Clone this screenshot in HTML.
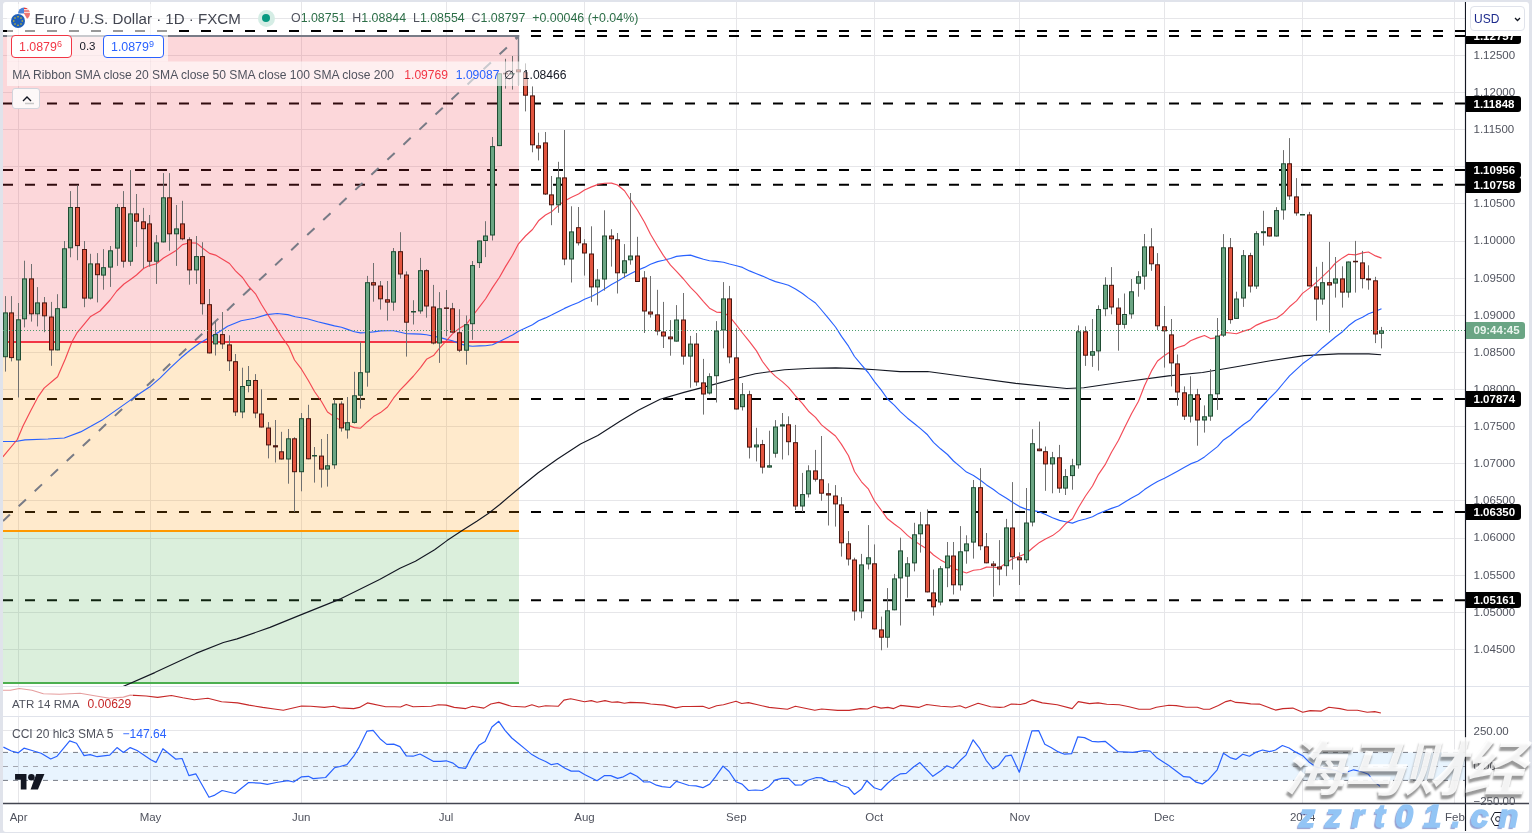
<!DOCTYPE html>
<html><head><meta charset="utf-8">
<style>
html,body{margin:0;padding:0;}
body{width:1532px;height:833px;overflow:hidden;background:#e0e3eb;position:relative;font-family:"Liberation Sans",Arial,sans-serif;}
#panel{position:absolute;left:3px;top:2px;width:1526px;height:829.5px;background:#fff;border-radius:3px;}
.t{position:absolute;white-space:pre;line-height:1;}
.pl{position:absolute;left:1473.5px;font-size:11.5px;color:#50535e;line-height:1;}
.bx{position:absolute;left:1465.5px;width:55.5px;height:16px;background:#000;color:#fff;font-weight:bold;font-size:11.5px;line-height:16px;border-radius:0 3px 3px 0;}
.bx span{position:absolute;left:8px;}
.tl{position:absolute;top:811.8px;font-size:11.5px;color:#50535e;line-height:1;transform:translateX(-50%);}
</style></head><body>
<div id="panel"></div>
<svg width="1532" height="833" viewBox="0 0 1532 833" style="position:absolute;left:0;top:0">
<defs><clipPath id="cm"><rect x="3" y="2" width="1462.5" height="684"/></clipPath><clipPath id="ca"><rect x="3" y="687" width="1462.5" height="29"/></clipPath><clipPath id="cc"><rect x="3" y="717" width="1462.5" height="86"/></clipPath></defs>
<g clip-path="url(#cm)" stroke="#e6e6e9" stroke-width="1" shape-rendering="crispEdges"><line x1="3" x2="1465.5" y1="649.4" y2="649.4"/><line x1="3" x2="1465.5" y1="612.3" y2="612.3"/><line x1="3" x2="1465.5" y1="575.2" y2="575.2"/><line x1="3" x2="1465.5" y1="538.0" y2="538.0"/><line x1="3" x2="1465.5" y1="500.9" y2="500.9"/><line x1="3" x2="1465.5" y1="463.8" y2="463.8"/><line x1="3" x2="1465.5" y1="426.7" y2="426.7"/><line x1="3" x2="1465.5" y1="389.5" y2="389.5"/><line x1="3" x2="1465.5" y1="352.4" y2="352.4"/><line x1="3" x2="1465.5" y1="315.3" y2="315.3"/><line x1="3" x2="1465.5" y1="278.2" y2="278.2"/><line x1="3" x2="1465.5" y1="241.0" y2="241.0"/><line x1="3" x2="1465.5" y1="203.9" y2="203.9"/><line x1="3" x2="1465.5" y1="166.8" y2="166.8"/><line x1="3" x2="1465.5" y1="129.7" y2="129.7"/><line x1="3" x2="1465.5" y1="92.5" y2="92.5"/><line x1="3" x2="1465.5" y1="55.4" y2="55.4"/><line x1="3" x2="1465.5" y1="18.3" y2="18.3"/></g>
<g stroke="#e6e6e9" stroke-width="1" shape-rendering="crispEdges"><line x1="18.6" x2="18.6" y1="2" y2="803"/><line x1="150.5" x2="150.5" y1="2" y2="803"/><line x1="301.2" x2="301.2" y1="2" y2="803"/><line x1="446.0" x2="446.0" y1="2" y2="803"/><line x1="584.5" x2="584.5" y1="2" y2="803"/><line x1="736.3" x2="736.3" y1="2" y2="803"/><line x1="874.3" x2="874.3" y1="2" y2="803"/><line x1="1019.8" x2="1019.8" y1="2" y2="803"/><line x1="1164.2" x2="1164.2" y1="2" y2="803"/><line x1="1302.7" x2="1302.7" y1="2" y2="803"/><line x1="1454.9" x2="1454.9" y1="2" y2="803"/></g>
<g clip-path="url(#cm)" stroke="#000" stroke-width="2" stroke-dasharray="10 12"><line x1="3" x2="1465.5" y1="31" y2="31"/><line x1="3" x2="1465.5" y1="36" y2="36"/><line x1="3" x2="1465.5" y1="103.6" y2="103.6"/><line x1="3" x2="1465.5" y1="170.0" y2="170.0"/><line x1="3" x2="1465.5" y1="184.7" y2="184.7"/><line x1="3" x2="1465.5" y1="398.9" y2="398.9"/><line x1="3" x2="1465.5" y1="512.1" y2="512.1"/><line x1="3" x2="1465.5" y1="600.3" y2="600.3"/></g>
<g clip-path="url(#cm)">
<rect x="3" y="37" width="516" height="304" fill="#f23645" fill-opacity="0.2"/>
<rect x="3" y="342" width="516" height="189" fill="#ff9800" fill-opacity="0.2"/>
<rect x="3" y="531" width="516" height="152" fill="#4caf50" fill-opacity="0.2"/>
<line x1="3" x2="519" y1="342" y2="342" stroke="#f23645" stroke-width="2"/>
<line x1="3" x2="519" y1="531" y2="531" stroke="#ff9800" stroke-width="2"/>
<line x1="3" x2="519" y1="683" y2="683" stroke="#4caf50" stroke-width="2"/>
<line x1="3" x2="519.2" y1="36" y2="36" stroke="#787b86" stroke-width="2"/>
<line x1="518.5" x2="518.5" y1="35" y2="85" stroke="#787b86" stroke-width="1.4"/>
<path d="M514.5,37 L518,37 L517,39.5 Z" fill="#787b86"/>
<line x1="3" y1="521" x2="518" y2="37" stroke="#787b86" stroke-width="2" stroke-dasharray="10 12" stroke-dashoffset="0.5"/>
</g>
<g clip-path="url(#cm)" fill="none" stroke-linejoin="round">
<polyline points="118.0,688.8 124.7,685.8 154.8,672.6 195.9,653.4 223.4,642.5 237.1,638.9 270.0,627.4 300.1,615.1 327.5,604.1 341.2,598.6 379.6,579.5 400.0,568.3 415.4,561.2 434.6,549.7 447.0,540.6 461.4,531.0 476.8,521.2 488.3,513.5 499.8,504.5 519.0,488.2 538.2,472.8 557.5,459.0 580.5,444.0 597.8,435.4 620.0,421.2 638.3,410.3 660.2,399.3 684.0,392.4 711.4,385.1 733.3,379.2 755.3,373.7 784.5,369.7 811.9,368.3 835.7,367.9 857.6,368.6 875.9,369.7 900.0,371.6 927.5,371.5 968.3,377.0 1015.8,383.4 1066.7,388.5 1083.7,387.8 1124.4,381.7 1168.5,375.9 1202.5,372.5 1236.4,366.8 1270.4,360.7 1304.3,355.6 1338.3,353.9 1368.8,353.9 1381.1,354.8" stroke="#131722" stroke-width="1.15"/>
<polyline points="2.9,441.5 15.4,441.5 25.0,439.9 48.0,439.0 64.3,438.0 80.6,431.9 103.0,419.4 118.0,408.9 136.0,396.1 149.5,387.1 160.0,378.1 170.6,367.6 181.1,357.8 190.1,350.3 199.1,343.5 208.1,338.3 218.6,332.3 227.6,326.3 241.1,320.7 254.7,318.3 266.7,314.6 277.2,313.5 287.7,314.6 295.2,316.8 307.2,318.8 317.7,321.8 327.5,324.1 334.5,325.9 341.5,327.3 347.5,329.4 354.5,331.7 360.5,332.9 367.5,332.5 373.5,331.9 380.5,330.9 387.5,330.7 393.5,330.8 400.5,332.2 406.5,333.7 413.5,333.9 420.5,334.1 426.5,334.7 433.5,336.2 439.5,337.4 446.5,339.4 452.5,340.8 459.5,343.6 466.5,345.6 472.5,346.3 479.5,345.9 485.5,345.8 492.5,344.8 499.5,341.5 505.5,338.4 512.5,335.1 518.5,331.2 525.5,328.0 532.5,324.8 538.5,320.7 545.5,317.9 551.5,315.1 558.5,311.4 564.5,308.4 571.5,305.3 578.5,302.5 584.5,299.3 591.5,296.5 597.5,293.2 604.5,289.0 611.5,284.6 617.5,281.3 624.5,277.0 630.5,273.8 637.5,270.2 644.5,267.4 650.5,264.3 657.5,261.6 663.5,260.3 670.5,258.5 676.5,256.4 683.5,255.6 690.5,255.1 696.5,257.1 703.5,259.3 709.5,260.8 716.5,261.4 723.5,262.3 729.5,264.0 736.5,265.7 742.5,267.4 749.5,270.9 756.5,273.7 762.5,276.1 769.5,279.3 775.5,281.6 782.5,283.5 788.5,285.3 795.5,288.9 802.5,293.5 808.5,298.1 815.5,303.0 821.5,310.0 828.5,318.4 835.5,327.0 841.5,336.4 848.5,346.2 854.5,356.5 861.5,364.9 868.5,373.0 874.5,381.7 881.5,390.4 887.5,399.0 894.5,405.4 900.5,411.8 907.5,418.2 914.5,423.8 920.5,428.6 927.5,434.8 933.5,442.3 940.5,448.8 947.5,454.5 953.5,461.0 960.5,466.9 966.5,472.1 973.5,475.6 980.5,480.3 986.5,484.9 993.5,489.5 999.5,494.1 1006.5,498.3 1012.5,502.3 1019.5,506.6 1026.5,509.4 1032.5,510.4 1039.5,511.9 1045.5,514.6 1052.5,517.7 1059.5,520.4 1065.5,521.7 1072.5,523.1 1078.5,520.8 1085.5,519.0 1092.5,516.7 1098.5,513.6 1105.5,510.7 1111.5,508.4 1118.5,506.0 1124.5,502.2 1131.5,498.1 1138.5,494.3 1144.5,489.6 1151.5,485.0 1157.5,481.6 1164.5,478.2 1171.5,474.6 1177.5,471.2 1184.5,467.3 1190.5,463.9 1197.5,461.2 1204.5,456.9 1210.5,452.1 1217.5,446.6 1223.5,439.9 1230.5,435.3 1236.5,430.0 1243.5,424.5 1250.5,419.7 1256.5,412.5 1263.5,405.0 1269.5,398.4 1276.5,391.4 1283.5,383.0 1289.5,375.9 1296.5,369.3 1302.5,363.8 1309.5,358.6 1316.5,353.4 1322.5,347.7 1329.5,342.0 1335.5,337.0 1342.5,331.7 1348.5,325.8 1355.5,320.5 1362.5,317.3 1368.5,313.8 1375.5,311.2 1381.5,308.7" stroke="#2962ff" stroke-width="1.15"/>
<polyline points="2.9,456.8 17.3,439.5 23.0,426.1 30.7,410.7 38.4,396.3 44.1,388.1 53.7,380.0 57.6,376.8 65.3,359.0 72.0,341.8 76.8,333.2 90.2,316.8 100.0,311.0 110.1,300.0 116.8,291.0 124.0,284.0 130.5,279.5 136.5,275.0 143.5,268.5 149.5,265.6 156.5,263.8 163.5,258.0 169.5,254.6 176.5,250.2 182.5,244.6 189.5,242.8 196.5,243.1 202.5,248.0 209.5,253.4 215.5,255.1 222.5,259.2 229.5,263.5 235.5,270.8 242.5,277.5 248.5,286.2 255.5,293.8 261.5,304.5 268.5,315.7 275.5,326.6 281.5,336.5 288.5,346.3 294.5,360.0 301.5,369.2 308.5,380.7 314.5,391.5 321.5,401.5 327.5,412.0 334.5,416.9 341.5,420.7 347.5,425.1 354.5,427.6 360.5,428.2 367.5,421.7 373.5,416.6 380.5,412.6 387.5,407.0 393.5,398.2 400.5,389.7 406.5,383.5 413.5,376.0 420.5,367.6 426.5,359.3 433.5,355.6 439.5,348.1 446.5,340.7 452.5,333.9 459.5,328.2 466.5,324.2 472.5,316.0 479.5,306.9 485.5,299.0 492.5,287.6 499.5,277.2 505.5,266.6 512.5,255.3 518.5,243.8 525.5,236.0 532.5,229.5 538.5,220.8 545.5,215.0 551.5,211.8 558.5,205.3 564.5,201.1 571.5,197.3 578.5,194.0 584.5,190.0 591.5,186.9 597.5,184.6 604.5,183.2 611.5,183.1 617.5,185.0 624.5,190.7 630.5,199.8 637.5,210.2 644.5,222.2 650.5,234.3 657.5,246.0 663.5,255.6 670.5,265.2 676.5,271.4 683.5,279.0 690.5,287.3 696.5,293.4 703.5,301.6 709.5,308.2 716.5,312.1 723.5,312.6 729.5,316.5 736.5,325.2 742.5,333.0 749.5,341.7 756.5,350.9 762.5,361.5 769.5,370.7 775.5,376.4 782.5,381.9 788.5,387.4 795.5,395.9 802.5,403.7 808.5,411.2 815.5,417.4 821.5,424.9 828.5,430.5 835.5,436.0 841.5,444.4 848.5,455.8 854.5,471.5 861.5,481.8 868.5,489.2 874.5,501.0 881.5,510.5 887.5,518.8 894.5,524.3 900.5,528.6 907.5,535.4 914.5,540.9 920.5,545.0 927.5,549.3 933.5,555.0 940.5,559.9 947.5,563.7 953.5,568.2 960.5,571.0 966.5,573.0 973.5,570.2 980.5,569.5 986.5,567.1 993.5,567.2 999.5,567.8 1006.5,562.7 1012.5,558.7 1019.5,556.2 1026.5,553.4 1032.5,548.0 1039.5,542.4 1045.5,538.9 1052.5,535.6 1059.5,530.4 1065.5,523.8 1072.5,518.7 1078.5,507.5 1085.5,496.0 1092.5,486.0 1098.5,474.3 1105.5,464.1 1111.5,452.2 1118.5,440.3 1124.5,427.7 1131.5,413.8 1138.5,401.2 1144.5,385.7 1151.5,370.9 1157.5,361.0 1164.5,355.5 1171.5,351.1 1177.5,347.5 1184.5,345.4 1190.5,340.7 1197.5,337.9 1204.5,335.5 1210.5,338.6 1217.5,337.6 1223.5,332.4 1230.5,333.0 1236.5,333.7 1243.5,331.1 1250.5,329.1 1256.5,325.1 1263.5,322.1 1269.5,320.1 1276.5,318.3 1283.5,313.2 1289.5,306.8 1296.5,300.9 1302.5,293.4 1309.5,288.1 1316.5,282.2 1322.5,276.6 1329.5,269.9 1335.5,263.0 1342.5,257.9 1348.5,254.2 1355.5,254.9 1362.5,252.9 1368.5,252.0 1375.5,255.9 1381.5,258.1" stroke="#f23645" stroke-opacity="0.9" stroke-width="1.15"/>
</g>
<g clip-path="url(#cm)"><path d="M5.5,296.1V371.6M11.5,296.1V361.4M18.5,303.0V397.5M24.5,260.7V327.4M31.5,264.0V321.6M37.5,287.1V326.4M44.5,297.0V332.2M51.5,301.9V365.8M57.5,294.2V350.4M64.5,241.0V308.2M70.5,191.1V257.3M77.5,185.4V260.2M84.5,241.0V307.2M90.5,253.8V299.5M97.5,253.1V302.4M103.5,249.1V289.7M110.5,246.0V286.9M117.5,204.0V265.9M123.5,191.1V267.6M130.5,170.1V265.9M136.5,194.0V246.9M143.5,207.9V268.4M149.5,215.0V266.7M156.5,235.1V283.9M163.5,173.1V242.4M169.5,173.1V250.8M176.5,205.0V265.9M182.5,200.8V240.3M189.5,237.3V284.7M196.5,236.0V283.9M202.5,242.2V314.6M209.5,289.0V353.4M215.5,321.8V355.5M222.5,312.0V348.9M229.5,335.3V371.0M235.5,354.0V416.0M242.5,367.7V418.2M248.5,366.0V392.3M255.5,374.1V418.2M261.5,389.3V427.5M268.5,422.1V458.4M275.5,420.0V462.5M281.5,431.8V459.5M288.5,429.0V483.7M294.5,437.2V511.8M301.5,413.0V491.3M308.5,404.8V459.3M314.5,447.0V482.6M321.5,439.0V487.6M327.5,434.0V486.6M334.5,399.4V468.8M341.5,401.4V431.6M347.5,397.0V438.6M354.5,371.8V423.5M360.5,342.2V408.6M367.5,275.9V386.7M373.5,263.0V301.7M380.5,281.0V309.6M387.5,281.0V320.6M393.5,248.0V310.7M400.5,232.2V278.6M406.5,271.4V356.6M413.5,300.2V324.5M420.5,257.9V313.7M426.5,269.3V317.7M433.5,284.9V344.4M439.5,292.1V362.9M446.5,290.0V336.2M452.5,302.9V332.6M459.5,309.2V352.1M466.5,315.5V364.7M472.5,261.0V339.8M479.5,240.5V268.0M485.5,221.2V257.1M492.5,137.0V240.5M499.5,73.3V146.1M505.5,58.8V88.6M512.5,56.0V89.6M518.5,56.0V86.0M525.5,63.4V111.4M532.5,86.4V152.3M538.5,132.7V160.4M545.5,132.0V195.0M551.5,176.0V225.2M558.5,161.8V212.8M564.5,130.0V265.2M571.5,206.3V282.5M578.5,207.0V245.5M584.5,239.2V275.6M591.5,226.3V301.8M597.5,269.1V305.4M604.5,210.3V290.6M611.5,229.2V266.6M617.5,233.0V293.5M624.5,244.1V278.1M630.5,193.0V264.7M637.5,236.8V282.0M644.5,271.1V333.0M650.5,276.0V317.6M657.5,289.8V335.3M663.5,301.9V348.0M670.5,320.1V355.7M676.5,305.1V341.6M683.5,293.0V364.7M690.5,335.9V387.7M696.5,333.0V385.8M703.5,358.9V414.6M709.5,373.3V394.5M716.5,321.1V402.5M723.5,282.1V348.4M729.5,285.9V363.3M736.5,328.2V409.5M742.5,383.0V410.5M749.5,390.7V458.5M756.5,427.8V461.4M762.5,439.9V473.5M769.5,430.7V467.6M775.5,420.1V457.6M782.5,413.0V459.5M788.5,416.3V455.3M795.5,424.9V510.0M802.5,472.9V512.0M808.5,465.3V497.5M815.5,449.9V481.6M821.5,436.0V500.8M828.5,483.3V525.5M835.5,485.1V526.6M841.5,497.1V556.6M848.5,531.1V565.5M854.5,557.7V620.6M861.5,553.9V618.3M868.5,525.1V569.5M874.5,544.4V629.4M881.5,616.6V650.3M887.5,588.1V647.7M894.5,573.9V610.3M900.5,537.7V625.5M907.5,557.1V597.7M914.5,522.8V571.4M920.5,511.9V552.6M927.5,509.4V592.4M933.5,569.5V615.6M940.5,566.0V605.4M947.5,542.0V587.2M953.5,542.0V594.5M960.5,526.1V590.6M966.5,535.3V563.7M973.5,480.0V558.6M980.5,468.1V550.2M986.5,533.0V563.3M993.5,561.1V596.8M999.5,540.1V585.3M1006.5,518.9V576.1M1012.5,482.1V569.6M1019.5,552.3V585.0M1026.5,488.0V563.1M1032.5,429.2V526.4M1039.5,421.6V451.2M1045.5,446.5V490.8M1052.5,451.9V493.3M1059.5,444.9V492.9M1065.5,469.1V495.0M1072.5,458.8V489.7M1078.5,325.4V468.7M1085.5,326.3V365.9M1092.5,319.0V366.9M1098.5,305.3V370.6M1105.5,277.3V316.2M1111.5,267.1V314.4M1118.5,298.2V350.7M1124.5,293.5V328.5M1131.5,279.0V318.7M1138.5,271.2V296.7M1144.5,234.0V289.6M1151.5,228.2V270.8M1157.5,253.1V330.2M1164.5,306.0V367.6M1171.5,319.0V386.4M1177.5,354.5V405.7M1184.5,386.4V420.0M1190.5,376.3V422.5M1197.5,388.9V445.7M1204.5,405.4V432.6M1210.5,369.1V420.8M1217.5,318.0V409.9M1223.5,234.1V336.9M1230.5,238.0V323.7M1236.5,291.7V318.9M1243.5,250.0V306.9M1250.5,252.8V292.5M1256.5,231.2V288.9M1263.5,210.8V245.6M1269.5,227.2V236.5M1276.5,207.2V236.5M1283.5,150.1V219.7M1289.5,138.1V199.9M1296.5,178.1V215.7M1302.5,214.0V214.8M1309.5,211.9V286.4M1316.5,266.8V320.6M1322.5,261.9V304.7M1329.5,241.9V332.5M1335.5,257.0V297.6M1342.5,266.3V307.6M1348.5,261.5V297.6M1355.5,240.9V292.6M1362.5,250.9V288.4M1368.5,265.3V289.7M1375.5,276.8V343.1M1381.5,326.9V348.4" stroke="#707070" stroke-width="1" fill="none"/><rect x="3.5" y="312.9" width="4" height="43.8" fill="#6ba583" stroke="#1f4d33" stroke-width="1"/><rect x="9.5" y="312.9" width="4" height="44.7" fill="#e2553f" stroke="#4a1610" stroke-width="1"/><rect x="16.5" y="319.8" width="4" height="40.1" fill="#6ba583" stroke="#1f4d33" stroke-width="1"/><rect x="22.5" y="278.9" width="4" height="39.9" fill="#6ba583" stroke="#1f4d33" stroke-width="1"/><rect x="29.5" y="278.9" width="4" height="34.9" fill="#e2553f" stroke="#4a1610" stroke-width="1"/><rect x="35.5" y="302.9" width="4" height="10.9" fill="#6ba583" stroke="#1f4d33" stroke-width="1"/><rect x="42.5" y="302.9" width="4" height="12.9" fill="#e2553f" stroke="#4a1610" stroke-width="1"/><rect x="49.5" y="317.0" width="4" height="32.9" fill="#e2553f" stroke="#4a1610" stroke-width="1"/><rect x="55.5" y="308.7" width="4" height="41.2" fill="#6ba583" stroke="#1f4d33" stroke-width="1"/><rect x="62.5" y="248.8" width="4" height="58.9" fill="#6ba583" stroke="#1f4d33" stroke-width="1"/><rect x="68.5" y="207.5" width="4" height="40.3" fill="#6ba583" stroke="#1f4d33" stroke-width="1"/><rect x="75.5" y="207.5" width="4" height="38.1" fill="#e2553f" stroke="#4a1610" stroke-width="1"/><rect x="82.5" y="249.5" width="4" height="48.6" fill="#e2553f" stroke="#4a1610" stroke-width="1"/><rect x="88.5" y="263.9" width="4" height="34.2" fill="#6ba583" stroke="#1f4d33" stroke-width="1"/><rect x="95.5" y="263.9" width="4" height="10.8" fill="#e2553f" stroke="#4a1610" stroke-width="1"/><rect x="101.5" y="267.7" width="4" height="7.4" fill="#6ba583" stroke="#1f4d33" stroke-width="1"/><rect x="108.5" y="250.8" width="4" height="16.3" fill="#6ba583" stroke="#1f4d33" stroke-width="1"/><rect x="115.5" y="207.6" width="4" height="40.5" fill="#6ba583" stroke="#1f4d33" stroke-width="1"/><rect x="121.5" y="207.6" width="4" height="53.6" fill="#e2553f" stroke="#4a1610" stroke-width="1"/><rect x="128.5" y="213.9" width="4" height="47.3" fill="#6ba583" stroke="#1f4d33" stroke-width="1"/><rect x="134.5" y="213.9" width="4" height="7.3" fill="#e2553f" stroke="#4a1610" stroke-width="1"/><rect x="141.5" y="221.8" width="4" height="6.9" fill="#e2553f" stroke="#4a1610" stroke-width="1"/><rect x="147.5" y="223.9" width="4" height="37.3" fill="#e2553f" stroke="#4a1610" stroke-width="1"/><rect x="154.5" y="242.9" width="4" height="18.3" fill="#6ba583" stroke="#1f4d33" stroke-width="1"/><rect x="161.5" y="197.8" width="4" height="44.1" fill="#6ba583" stroke="#1f4d33" stroke-width="1"/><rect x="167.5" y="197.8" width="4" height="36.0" fill="#e2553f" stroke="#4a1610" stroke-width="1"/><rect x="174.5" y="228.9" width="4" height="4.9" fill="#6ba583" stroke="#1f4d33" stroke-width="1"/><rect x="180.5" y="223.9" width="4" height="14.9" fill="#e2553f" stroke="#4a1610" stroke-width="1"/><rect x="187.5" y="239.8" width="4" height="30.1" fill="#e2553f" stroke="#4a1610" stroke-width="1"/><rect x="194.5" y="256.6" width="4" height="13.3" fill="#6ba583" stroke="#1f4d33" stroke-width="1"/><rect x="200.5" y="256.6" width="4" height="47.1" fill="#e2553f" stroke="#4a1610" stroke-width="1"/><rect x="207.5" y="304.7" width="4" height="48.2" fill="#e2553f" stroke="#4a1610" stroke-width="1"/><rect x="213.5" y="334.6" width="4" height="9.3" fill="#6ba583" stroke="#1f4d33" stroke-width="1"/><rect x="220.5" y="334.6" width="4" height="9.3" fill="#e2553f" stroke="#4a1610" stroke-width="1"/><rect x="227.5" y="344.9" width="4" height="15.9" fill="#e2553f" stroke="#4a1610" stroke-width="1"/><rect x="233.5" y="361.7" width="4" height="50.2" fill="#e2553f" stroke="#4a1610" stroke-width="1"/><rect x="240.5" y="386.5" width="4" height="25.4" fill="#6ba583" stroke="#1f4d33" stroke-width="1"/><rect x="246.5" y="380.5" width="4" height="5.0" fill="#6ba583" stroke="#1f4d33" stroke-width="1"/><rect x="253.5" y="380.5" width="4" height="32.5" fill="#e2553f" stroke="#4a1610" stroke-width="1"/><rect x="259.5" y="414.0" width="4" height="13.0" fill="#e2553f" stroke="#4a1610" stroke-width="1"/><rect x="266.5" y="428.0" width="4" height="16.9" fill="#e2553f" stroke="#4a1610" stroke-width="1"/><rect x="273" y="445.2" width="5" height="2.2" fill="#4a1610"/><rect x="279.5" y="451.8" width="4" height="7.2" fill="#e2553f" stroke="#4a1610" stroke-width="1"/><rect x="286.5" y="438.8" width="4" height="20.2" fill="#6ba583" stroke="#1f4d33" stroke-width="1"/><rect x="292.5" y="438.8" width="4" height="32.9" fill="#e2553f" stroke="#4a1610" stroke-width="1"/><rect x="299.5" y="418.7" width="4" height="53.0" fill="#6ba583" stroke="#1f4d33" stroke-width="1"/><rect x="306.5" y="418.7" width="4" height="40.1" fill="#e2553f" stroke="#4a1610" stroke-width="1"/><rect x="312" y="455.0" width="5" height="1.5" fill="#1f4d33"/><rect x="319.5" y="456.1" width="4" height="13.0" fill="#e2553f" stroke="#4a1610" stroke-width="1"/><rect x="325.5" y="465.8" width="4" height="3.3" fill="#6ba583" stroke="#1f4d33" stroke-width="1"/><rect x="332.5" y="404.0" width="4" height="60.8" fill="#6ba583" stroke="#1f4d33" stroke-width="1"/><rect x="339.5" y="404.0" width="4" height="23.9" fill="#e2553f" stroke="#4a1610" stroke-width="1"/><rect x="345.5" y="422.7" width="4" height="7.2" fill="#6ba583" stroke="#1f4d33" stroke-width="1"/><rect x="352.5" y="395.8" width="4" height="26.6" fill="#6ba583" stroke="#1f4d33" stroke-width="1"/><rect x="358.5" y="372.7" width="4" height="22.5" fill="#6ba583" stroke="#1f4d33" stroke-width="1"/><rect x="365.5" y="282.7" width="4" height="89.4" fill="#6ba583" stroke="#1f4d33" stroke-width="1"/><rect x="371.5" y="282.7" width="4" height="2.3" fill="#e2553f" stroke="#4a1610" stroke-width="1"/><rect x="378.5" y="286.0" width="4" height="12.8" fill="#e2553f" stroke="#4a1610" stroke-width="1"/><rect x="385.5" y="299.8" width="4" height="2.3" fill="#e2553f" stroke="#4a1610" stroke-width="1"/><rect x="391.5" y="251.7" width="4" height="50.4" fill="#6ba583" stroke="#1f4d33" stroke-width="1"/><rect x="398.5" y="251.7" width="4" height="22.3" fill="#e2553f" stroke="#4a1610" stroke-width="1"/><rect x="404.5" y="275.0" width="4" height="47.2" fill="#e2553f" stroke="#4a1610" stroke-width="1"/><rect x="411" y="311.0" width="5" height="1.5" fill="#1f4d33"/><rect x="418.5" y="270.7" width="4" height="40.2" fill="#6ba583" stroke="#1f4d33" stroke-width="1"/><rect x="424.5" y="270.7" width="4" height="35.3" fill="#e2553f" stroke="#4a1610" stroke-width="1"/><rect x="431.5" y="307.0" width="4" height="36.0" fill="#e2553f" stroke="#4a1610" stroke-width="1"/><rect x="437.5" y="308.8" width="4" height="34.2" fill="#6ba583" stroke="#1f4d33" stroke-width="1"/><rect x="444" y="307.4" width="5" height="1.5" fill="#4a1610"/><rect x="450.5" y="308.8" width="4" height="23.3" fill="#e2553f" stroke="#4a1610" stroke-width="1"/><rect x="457.5" y="332.8" width="4" height="17.4" fill="#e2553f" stroke="#4a1610" stroke-width="1"/><rect x="464.5" y="324.7" width="4" height="25.5" fill="#6ba583" stroke="#1f4d33" stroke-width="1"/><rect x="470.5" y="265.6" width="4" height="58.1" fill="#6ba583" stroke="#1f4d33" stroke-width="1"/><rect x="477.5" y="241.0" width="4" height="21.6" fill="#6ba583" stroke="#1f4d33" stroke-width="1"/><rect x="483.5" y="236.0" width="4" height="4.5" fill="#6ba583" stroke="#1f4d33" stroke-width="1"/><rect x="490.5" y="146.6" width="4" height="88.4" fill="#6ba583" stroke="#1f4d33" stroke-width="1"/><rect x="497.5" y="73.8" width="4" height="71.8" fill="#6ba583" stroke="#1f4d33" stroke-width="1"/><rect x="503" y="72.8" width="5" height="1.5" fill="#4a1610"/><rect x="510" y="73.0" width="5" height="1.5" fill="#1f4d33"/><rect x="516.5" y="69.9" width="4" height="1.9" fill="#e2553f" stroke="#4a1610" stroke-width="1"/><rect x="523.5" y="72.7" width="4" height="22.5" fill="#e2553f" stroke="#4a1610" stroke-width="1"/><rect x="530.5" y="95.9" width="4" height="48.9" fill="#e2553f" stroke="#4a1610" stroke-width="1"/><rect x="536.5" y="145.8" width="4" height="2.2" fill="#e2553f" stroke="#4a1610" stroke-width="1"/><rect x="543.5" y="142.9" width="4" height="51.1" fill="#e2553f" stroke="#4a1610" stroke-width="1"/><rect x="549.5" y="194.9" width="4" height="9.9" fill="#e2553f" stroke="#4a1610" stroke-width="1"/><rect x="556.5" y="177.9" width="4" height="26.9" fill="#6ba583" stroke="#1f4d33" stroke-width="1"/><rect x="562.5" y="177.9" width="4" height="81.1" fill="#e2553f" stroke="#4a1610" stroke-width="1"/><rect x="569.5" y="231.9" width="4" height="27.1" fill="#6ba583" stroke="#1f4d33" stroke-width="1"/><rect x="576.5" y="227.7" width="4" height="15.1" fill="#e2553f" stroke="#4a1610" stroke-width="1"/><rect x="582.5" y="243.9" width="4" height="9.1" fill="#e2553f" stroke="#4a1610" stroke-width="1"/><rect x="589.5" y="254.0" width="4" height="32.9" fill="#e2553f" stroke="#4a1610" stroke-width="1"/><rect x="595.5" y="280.0" width="4" height="6.9" fill="#6ba583" stroke="#1f4d33" stroke-width="1"/><rect x="602.5" y="236.0" width="4" height="43.0" fill="#6ba583" stroke="#1f4d33" stroke-width="1"/><rect x="609.5" y="236.0" width="4" height="2.8" fill="#e2553f" stroke="#4a1610" stroke-width="1"/><rect x="615.5" y="239.8" width="4" height="33.0" fill="#e2553f" stroke="#4a1610" stroke-width="1"/><rect x="622.5" y="260.8" width="4" height="12.0" fill="#6ba583" stroke="#1f4d33" stroke-width="1"/><rect x="628.5" y="256.0" width="4" height="3.8" fill="#6ba583" stroke="#1f4d33" stroke-width="1"/><rect x="635.5" y="256.0" width="4" height="25.5" fill="#e2553f" stroke="#4a1610" stroke-width="1"/><rect x="642.5" y="278.0" width="4" height="33.0" fill="#e2553f" stroke="#4a1610" stroke-width="1"/><rect x="648.5" y="312.0" width="4" height="2.0" fill="#e2553f" stroke="#4a1610" stroke-width="1"/><rect x="655.5" y="314.9" width="4" height="16.1" fill="#e2553f" stroke="#4a1610" stroke-width="1"/><rect x="661.5" y="332.0" width="4" height="4.0" fill="#e2553f" stroke="#4a1610" stroke-width="1"/><rect x="668.5" y="337.0" width="4" height="1.8" fill="#e2553f" stroke="#4a1610" stroke-width="1"/><rect x="674.5" y="320.0" width="4" height="21.1" fill="#6ba583" stroke="#1f4d33" stroke-width="1"/><rect x="681.5" y="320.0" width="4" height="36.1" fill="#e2553f" stroke="#4a1610" stroke-width="1"/><rect x="688.5" y="344.1" width="4" height="12.0" fill="#6ba583" stroke="#1f4d33" stroke-width="1"/><rect x="694.5" y="344.1" width="4" height="37.8" fill="#e2553f" stroke="#4a1610" stroke-width="1"/><rect x="701.5" y="382.9" width="4" height="11.1" fill="#e2553f" stroke="#4a1610" stroke-width="1"/><rect x="707.5" y="376.7" width="4" height="16.3" fill="#6ba583" stroke="#1f4d33" stroke-width="1"/><rect x="714.5" y="331.0" width="4" height="44.7" fill="#6ba583" stroke="#1f4d33" stroke-width="1"/><rect x="721.5" y="298.9" width="4" height="31.1" fill="#6ba583" stroke="#1f4d33" stroke-width="1"/><rect x="727.5" y="298.9" width="4" height="58.0" fill="#e2553f" stroke="#4a1610" stroke-width="1"/><rect x="734.5" y="357.9" width="4" height="51.1" fill="#e2553f" stroke="#4a1610" stroke-width="1"/><rect x="740.5" y="394.7" width="4" height="12.0" fill="#6ba583" stroke="#1f4d33" stroke-width="1"/><rect x="747.5" y="394.7" width="4" height="52.4" fill="#e2553f" stroke="#4a1610" stroke-width="1"/><rect x="754.5" y="445.0" width="4" height="1.9" fill="#6ba583" stroke="#1f4d33" stroke-width="1"/><rect x="760.5" y="444.6" width="4" height="22.5" fill="#e2553f" stroke="#4a1610" stroke-width="1"/><rect x="767.5" y="465.8" width="4" height="1.3" fill="#6ba583" stroke="#1f4d33" stroke-width="1"/><rect x="773.5" y="427.0" width="4" height="26.2" fill="#6ba583" stroke="#1f4d33" stroke-width="1"/><rect x="780" y="424.3" width="5" height="2.2" fill="#1f4d33"/><rect x="786.5" y="424.8" width="4" height="16.9" fill="#e2553f" stroke="#4a1610" stroke-width="1"/><rect x="793.5" y="442.7" width="4" height="63.3" fill="#e2553f" stroke="#4a1610" stroke-width="1"/><rect x="800.5" y="494.6" width="4" height="11.4" fill="#6ba583" stroke="#1f4d33" stroke-width="1"/><rect x="806.5" y="470.9" width="4" height="23.0" fill="#6ba583" stroke="#1f4d33" stroke-width="1"/><rect x="813.5" y="470.9" width="4" height="8.3" fill="#e2553f" stroke="#4a1610" stroke-width="1"/><rect x="819.5" y="479.8" width="4" height="13.4" fill="#e2553f" stroke="#4a1610" stroke-width="1"/><rect x="826.5" y="493.7" width="4" height="1.3" fill="#e2553f" stroke="#4a1610" stroke-width="1"/><rect x="833.5" y="496.0" width="4" height="7.9" fill="#e2553f" stroke="#4a1610" stroke-width="1"/><rect x="839.5" y="504.9" width="4" height="37.9" fill="#e2553f" stroke="#4a1610" stroke-width="1"/><rect x="846.5" y="543.8" width="4" height="15.2" fill="#e2553f" stroke="#4a1610" stroke-width="1"/><rect x="852.5" y="560.0" width="4" height="51.0" fill="#e2553f" stroke="#4a1610" stroke-width="1"/><rect x="859.5" y="564.9" width="4" height="46.1" fill="#6ba583" stroke="#1f4d33" stroke-width="1"/><rect x="866.5" y="557.8" width="4" height="6.1" fill="#6ba583" stroke="#1f4d33" stroke-width="1"/><rect x="872.5" y="563.8" width="4" height="65.1" fill="#e2553f" stroke="#4a1610" stroke-width="1"/><rect x="879.5" y="629.9" width="4" height="7.3" fill="#e2553f" stroke="#4a1610" stroke-width="1"/><rect x="885.5" y="610.8" width="4" height="26.4" fill="#6ba583" stroke="#1f4d33" stroke-width="1"/><rect x="892.5" y="578.9" width="4" height="30.9" fill="#6ba583" stroke="#1f4d33" stroke-width="1"/><rect x="898.5" y="550.9" width="4" height="27.0" fill="#6ba583" stroke="#1f4d33" stroke-width="1"/><rect x="905.5" y="563.8" width="4" height="12.3" fill="#6ba583" stroke="#1f4d33" stroke-width="1"/><rect x="912.5" y="534.8" width="4" height="28.1" fill="#6ba583" stroke="#1f4d33" stroke-width="1"/><rect x="918.5" y="524.9" width="4" height="8.9" fill="#6ba583" stroke="#1f4d33" stroke-width="1"/><rect x="925.5" y="524.9" width="4" height="67.0" fill="#e2553f" stroke="#4a1610" stroke-width="1"/><rect x="931.5" y="592.9" width="4" height="13.9" fill="#e2553f" stroke="#4a1610" stroke-width="1"/><rect x="938.5" y="568.8" width="4" height="33.2" fill="#6ba583" stroke="#1f4d33" stroke-width="1"/><rect x="945.5" y="556.0" width="4" height="11.8" fill="#6ba583" stroke="#1f4d33" stroke-width="1"/><rect x="951.5" y="556.0" width="4" height="28.8" fill="#e2553f" stroke="#4a1610" stroke-width="1"/><rect x="958.5" y="551.8" width="4" height="33.0" fill="#6ba583" stroke="#1f4d33" stroke-width="1"/><rect x="964.5" y="543.9" width="4" height="6.9" fill="#6ba583" stroke="#1f4d33" stroke-width="1"/><rect x="971.5" y="487.7" width="4" height="54.4" fill="#6ba583" stroke="#1f4d33" stroke-width="1"/><rect x="978.5" y="487.7" width="4" height="58.1" fill="#e2553f" stroke="#4a1610" stroke-width="1"/><rect x="984.5" y="546.8" width="4" height="16.0" fill="#e2553f" stroke="#4a1610" stroke-width="1"/><rect x="991.5" y="564.0" width="4" height="1.7" fill="#e2553f" stroke="#4a1610" stroke-width="1"/><rect x="997.5" y="567.0" width="4" height="2.0" fill="#e2553f" stroke="#4a1610" stroke-width="1"/><rect x="1004.5" y="527.9" width="4" height="37.8" fill="#6ba583" stroke="#1f4d33" stroke-width="1"/><rect x="1010.5" y="528.0" width="4" height="28.8" fill="#e2553f" stroke="#4a1610" stroke-width="1"/><rect x="1017.5" y="557.8" width="4" height="2.0" fill="#e2553f" stroke="#4a1610" stroke-width="1"/><rect x="1024.5" y="523.0" width="4" height="36.8" fill="#6ba583" stroke="#1f4d33" stroke-width="1"/><rect x="1030.5" y="443.7" width="4" height="78.3" fill="#6ba583" stroke="#1f4d33" stroke-width="1"/><rect x="1037.5" y="449.1" width="4" height="1.6" fill="#e2553f" stroke="#4a1610" stroke-width="1"/><rect x="1043.5" y="451.7" width="4" height="12.2" fill="#e2553f" stroke="#4a1610" stroke-width="1"/><rect x="1050.5" y="457.8" width="4" height="6.1" fill="#6ba583" stroke="#1f4d33" stroke-width="1"/><rect x="1057.5" y="457.8" width="4" height="30.3" fill="#e2553f" stroke="#4a1610" stroke-width="1"/><rect x="1063.5" y="476.6" width="4" height="11.5" fill="#6ba583" stroke="#1f4d33" stroke-width="1"/><rect x="1070.5" y="465.8" width="4" height="9.8" fill="#6ba583" stroke="#1f4d33" stroke-width="1"/><rect x="1076.5" y="331.8" width="4" height="133.0" fill="#6ba583" stroke="#1f4d33" stroke-width="1"/><rect x="1083.5" y="331.8" width="4" height="23.4" fill="#e2553f" stroke="#4a1610" stroke-width="1"/><rect x="1090.5" y="351.7" width="4" height="3.5" fill="#6ba583" stroke="#1f4d33" stroke-width="1"/><rect x="1096.5" y="309.5" width="4" height="41.4" fill="#6ba583" stroke="#1f4d33" stroke-width="1"/><rect x="1103.5" y="285.3" width="4" height="23.4" fill="#6ba583" stroke="#1f4d33" stroke-width="1"/><rect x="1109.5" y="285.3" width="4" height="21.7" fill="#e2553f" stroke="#4a1610" stroke-width="1"/><rect x="1116.5" y="308.0" width="4" height="16.3" fill="#e2553f" stroke="#4a1610" stroke-width="1"/><rect x="1122.5" y="314.5" width="4" height="9.8" fill="#6ba583" stroke="#1f4d33" stroke-width="1"/><rect x="1129.5" y="291.8" width="4" height="22.1" fill="#6ba583" stroke="#1f4d33" stroke-width="1"/><rect x="1136.5" y="276.7" width="4" height="6.5" fill="#6ba583" stroke="#1f4d33" stroke-width="1"/><rect x="1142.5" y="246.9" width="4" height="29.2" fill="#6ba583" stroke="#1f4d33" stroke-width="1"/><rect x="1149.5" y="246.9" width="4" height="16.9" fill="#e2553f" stroke="#4a1610" stroke-width="1"/><rect x="1155.5" y="264.8" width="4" height="61.0" fill="#e2553f" stroke="#4a1610" stroke-width="1"/><rect x="1162.5" y="326.8" width="4" height="4.0" fill="#e2553f" stroke="#4a1610" stroke-width="1"/><rect x="1169.5" y="334.9" width="4" height="28.0" fill="#e2553f" stroke="#4a1610" stroke-width="1"/><rect x="1175.5" y="363.9" width="4" height="28.1" fill="#e2553f" stroke="#4a1610" stroke-width="1"/><rect x="1182.5" y="392.8" width="4" height="23.3" fill="#e2553f" stroke="#4a1610" stroke-width="1"/><rect x="1188.5" y="394.8" width="4" height="21.3" fill="#6ba583" stroke="#1f4d33" stroke-width="1"/><rect x="1195.5" y="394.8" width="4" height="25.2" fill="#e2553f" stroke="#4a1610" stroke-width="1"/><rect x="1202.5" y="416.8" width="4" height="3.2" fill="#6ba583" stroke="#1f4d33" stroke-width="1"/><rect x="1208.5" y="394.8" width="4" height="21.3" fill="#6ba583" stroke="#1f4d33" stroke-width="1"/><rect x="1215.5" y="336.1" width="4" height="57.7" fill="#6ba583" stroke="#1f4d33" stroke-width="1"/><rect x="1221.5" y="247.8" width="4" height="87.3" fill="#6ba583" stroke="#1f4d33" stroke-width="1"/><rect x="1228.5" y="247.8" width="4" height="71.8" fill="#e2553f" stroke="#4a1610" stroke-width="1"/><rect x="1234.5" y="299.0" width="4" height="19.4" fill="#6ba583" stroke="#1f4d33" stroke-width="1"/><rect x="1241.5" y="255.7" width="4" height="42.3" fill="#6ba583" stroke="#1f4d33" stroke-width="1"/><rect x="1248.5" y="255.7" width="4" height="30.3" fill="#e2553f" stroke="#4a1610" stroke-width="1"/><rect x="1254.5" y="233.7" width="4" height="52.3" fill="#6ba583" stroke="#1f4d33" stroke-width="1"/><rect x="1261" y="231.2" width="5" height="2.0" fill="#1f4d33"/><rect x="1267.5" y="227.7" width="4" height="8.3" fill="#e2553f" stroke="#4a1610" stroke-width="1"/><rect x="1274.5" y="210.6" width="4" height="25.4" fill="#6ba583" stroke="#1f4d33" stroke-width="1"/><rect x="1281.5" y="163.8" width="4" height="46.1" fill="#6ba583" stroke="#1f4d33" stroke-width="1"/><rect x="1287.5" y="163.8" width="4" height="32.1" fill="#e2553f" stroke="#4a1610" stroke-width="1"/><rect x="1294.5" y="196.9" width="4" height="16.0" fill="#e2553f" stroke="#4a1610" stroke-width="1"/><rect x="1300" y="214.0" width="5" height="1.5" fill="#1f4d33"/><rect x="1307.5" y="214.9" width="4" height="71.0" fill="#e2553f" stroke="#4a1610" stroke-width="1"/><rect x="1314.5" y="286.9" width="4" height="12.1" fill="#e2553f" stroke="#4a1610" stroke-width="1"/><rect x="1320.5" y="282.7" width="4" height="16.3" fill="#6ba583" stroke="#1f4d33" stroke-width="1"/><rect x="1327.5" y="282.7" width="4" height="2.3" fill="#e2553f" stroke="#4a1610" stroke-width="1"/><rect x="1333.5" y="278.9" width="4" height="4.2" fill="#6ba583" stroke="#1f4d33" stroke-width="1"/><rect x="1340.5" y="278.9" width="4" height="13.2" fill="#e2553f" stroke="#4a1610" stroke-width="1"/><rect x="1346.5" y="262.0" width="4" height="30.1" fill="#6ba583" stroke="#1f4d33" stroke-width="1"/><rect x="1353" y="260.8" width="5" height="1.5" fill="#4a1610"/><rect x="1360.5" y="262.9" width="4" height="15.7" fill="#e2553f" stroke="#4a1610" stroke-width="1"/><rect x="1366" y="278.4" width="5" height="1.9" fill="#4a1610"/><rect x="1373.5" y="280.8" width="4" height="53.2" fill="#e2553f" stroke="#4a1610" stroke-width="1"/><rect x="1379.5" y="330.8" width="4" height="2.5" fill="#6ba583" stroke="#1f4d33" stroke-width="1"/></g>
<line x1="3" x2="1465.5" y1="330.5" y2="330.5" stroke="#4a9a6c" stroke-width="1" stroke-dasharray="1 2"/>
<rect x="7" y="4" width="161" height="57.5" fill="#fff" fill-opacity="0.6"/>
<rect x="7" y="61.5" width="562" height="24.5" fill="#fff" fill-opacity="0.6"/>
<line x1="3" x2="1529" y1="686.5" y2="686.5" stroke="#e0e3eb" stroke-width="1"/>
<line x1="3" x2="1529" y1="716.5" y2="716.5" stroke="#e0e3eb" stroke-width="1"/>
<polyline clip-path="url(#ca)" points="2.7,690.3 10.3,690.3 19.4,688.5 32.0,690.3 43.4,693.7 59.4,694.2 80.0,693.3 96.0,696.0 109.7,698.3 123.4,697.1 130.2,695.1 146.2,696.0 157.6,697.4 171.4,695.5 182.8,697.8 194.2,699.7 207.9,698.3 221.6,701.7 237.6,702.9 249.0,705.1 262.7,707.4 274.2,709.0 283.3,710.2 301.6,706.0 310.7,706.3 324.4,707.4 333.6,706.3 340.0,707.9 353.7,708.6 359.4,707.4 367.4,702.9 385.7,706.7 394.8,706.7 400.5,707.0 406.3,704.5 413.1,706.7 431.4,706.3 438.2,704.7 446.2,705.1 454.2,707.4 465.7,708.6 472.5,706.3 483.9,708.1 490.8,704.0 498.8,702.4 511.4,706.3 525.1,707.0 531.9,704.7 538.8,707.0 545.6,705.8 558.2,706.3 563.9,700.1 570.7,698.7 584.5,701.7 591.3,700.6 597.0,702.2 605.0,700.6 611.9,702.2 617.6,701.9 624.4,703.3 630.2,702.4 643.9,702.9 650.7,704.0 664.4,705.1 675.8,707.9 682.7,706.5 690.0,706.5 702.8,706.3 709.0,708.6 716.6,705.8 723.4,704.7 736.0,701.3 741.7,703.5 748.5,702.6 757.7,704.7 769.1,707.4 787.4,709.3 795.4,706.3 814.8,710.2 821.6,709.0 837.6,710.4 849.1,710.4 860.5,708.6 867.3,709.0 874.2,706.3 881.0,708.1 887.9,707.4 893.6,708.6 900.5,705.4 918.7,707.4 926.7,704.5 940.5,706.3 951.9,707.0 959.9,705.8 965.6,707.9 978.1,703.3 990.7,706.7 999.8,707.4 1004.4,707.0 1011.3,704.0 1020.4,704.5 1026.2,703.1 1031.9,699.9 1042.3,702.9 1057.2,704.8 1072.1,708.6 1078.3,701.6 1089.4,703.6 1098.1,702.9 1106.8,704.3 1119.2,704.8 1129.1,706.8 1139.0,709.3 1150.2,709.3 1156.4,707.3 1168.8,705.3 1176.3,705.6 1186.2,707.3 1197.3,707.3 1203.5,709.3 1209.7,709.3 1218.4,705.6 1225.9,701.6 1230.8,700.4 1235.8,702.4 1243.2,702.9 1250.7,703.9 1259.3,704.1 1268.0,707.3 1275.5,710.1 1282.9,708.6 1292.8,708.1 1302.7,712.3 1310.2,710.6 1321.3,711.1 1328.8,707.3 1340.0,708.6 1347.4,710.3 1357.3,710.3 1367.2,712.3 1374.7,711.6 1380.9,713.0" fill="none" stroke="#c62828" stroke-width="1.1" stroke-linejoin="round"/>
<rect x="3" y="687" width="130" height="29" fill="#fff" fill-opacity="0.55"/>
<g clip-path="url(#cc)">
<line x1="3" x2="1465.5" y1="730.5" y2="730.5" stroke="#e6e6e9" stroke-width="1"/>
<rect x="3" y="752.4" width="1462.5" height="28" fill="#2196f3" fill-opacity="0.1"/>
<line x1="3" x2="1465.5" y1="752.4" y2="752.4" stroke="#787b86" stroke-width="1" stroke-dasharray="5 5"/>
<line x1="3" x2="1465.5" y1="766.5" y2="766.5" stroke="#a3a6af" stroke-width="1" stroke-dasharray="5 5"/>
<line x1="3" x2="1465.5" y1="780.4" y2="780.4" stroke="#787b86" stroke-width="1" stroke-dasharray="5 5"/>
<polyline points="3.4,747.1 11.4,751.0 18.3,752.8 24.0,748.2 32.0,750.5 41.1,753.3 50.7,759.0 57.1,756.2 69.7,740.9 76.5,743.2 84.1,755.6 90.2,754.6 97.1,756.7 109.7,755.1 117.0,747.6 123.4,752.4 130.2,747.6 137.1,750.5 150.8,759.7 156.0,762.4 162.9,748.7 175.9,759.2 182.1,758.5 188.9,775.6 195.8,773.8 209.0,797.3 214.8,795.1 222.1,790.5 234.9,793.5 248.6,782.5 260.5,783.2 267.3,784.3 276.4,782.5 287.9,780.7 293.6,782.0 301.6,776.8 308.4,776.3 313.0,778.6 325.6,777.5 334.7,767.7 340.0,766.5 346.9,764.7 353.7,756.2 359.4,746.6 367.0,731.1 373.1,730.4 380.0,738.7 386.8,744.4 393.7,744.1 399.9,746.6 406.3,755.8 413.1,756.2 420.0,754.0 433.2,761.3 440.5,761.3 446.2,760.8 453.1,763.1 458.8,767.7 465.7,768.3 472.1,755.8 478.9,745.3 485.1,741.4 491.9,727.0 498.8,721.3 505.0,730.4 511.8,738.0 518.2,743.2 525.1,748.9 531.9,754.6 538.8,758.5 545.6,761.5 551.3,764.7 557.5,763.5 565.0,768.3 571.2,771.1 578.7,771.1 584.5,774.5 597.0,780.7 604.6,775.6 610.7,775.6 617.6,778.4 623.3,776.8 630.2,772.9 637.0,776.3 643.9,782.0 649.6,781.8 656.4,785.2 662.1,786.6 670.1,787.5 676.3,781.4 680.0,782.5 689.1,785.5 696.0,785.9 702.8,787.7 709.7,784.1 715.4,776.8 723.0,766.1 729.1,771.5 736.0,781.8 742.1,784.1 748.5,790.5 755.4,790.0 762.2,790.5 769.1,786.4 774.8,780.2 781.7,778.4 788.5,778.4 795.4,785.2 801.8,784.8 807.9,780.2 816.4,777.5 821.6,777.9 828.5,781.4 835.4,781.8 841.1,785.2 848.4,787.5 854.3,794.4 861.6,788.9 866.9,780.7 874.2,787.7 881.0,790.0 887.9,783.0 894.8,777.2 900.5,773.8 906.2,773.4 913.5,767.0 919.9,762.6 926.7,769.9 932.9,776.3 940.5,771.1 946.9,765.8 953.0,768.3 959.9,760.8 966.0,755.1 973.1,739.8 979.3,747.8 986.1,760.3 993.0,768.8 998.7,765.4 1005.6,756.2 1011.3,755.1 1019.3,772.2 1025.0,754.0 1031.9,730.9 1038.6,730.6 1044.8,744.3 1051.0,747.5 1058.4,751.9 1064.6,754.2 1071.6,753.7 1077.8,736.8 1084.5,737.6 1091.9,741.3 1098.1,741.8 1105.1,741.3 1118.0,751.7 1132.8,752.4 1144.0,750.7 1150.2,751.2 1156.4,757.4 1168.8,765.6 1183.7,776.7 1189.9,777.2 1196.1,782.2 1202.3,783.9 1208.5,779.7 1217.2,769.8 1223.4,753.2 1230.8,757.9 1235.8,759.4 1242.7,754.2 1249.4,756.2 1255.6,752.4 1262.6,750.0 1269.3,751.7 1275.5,750.0 1282.4,745.5 1289.1,748.0 1295.3,751.9 1302.7,755.7 1308.9,761.9 1316.4,767.3 1328.8,769.0 1336.2,770.5 1342.4,773.5 1353.6,769.8 1361.0,771.5 1368.5,774.3 1373.4,781.0 1380.1,786.4" fill="none" stroke="#2962ff" stroke-width="1.2" stroke-linejoin="round"/>
</g>
<line x1="1465.5" x2="1465.5" y1="2" y2="831" stroke="#131722" stroke-width="1.15"/>
<line x1="3" x2="1529" y1="803.5" y2="803.5" stroke="#434651" stroke-width="1.5"/>
</svg>
<svg style="position:absolute;left:10px;top:7px" width="24" height="22" viewBox="0 0 24 22">
<circle cx="14" cy="6.5" r="6" fill="#fff"/>
<path d="M14,0.5 A6,6 0 0 1 20,6.5 L14,6.5 Z" fill="#e53935"/>
<rect x="14" y="2.2" width="6" height="1.2" fill="#fff"/><rect x="14" y="4.6" width="6" height="1.2" fill="#fff"/>
<path d="M8,6.5 A6,6 0 0 1 14,0.5 L14,6.5 Z" fill="#1e63d0" opacity="0.8"/>
<path d="M14,6.5 L20,6.5 A6,6 0 0 1 17,11.7 Z" fill="#e53935" opacity="0.7"/>
<circle cx="8" cy="14" r="7" fill="#1f5fb8"/>
<g fill="#ffd200"><circle cx="8" cy="9.8" r="0.7"/><circle cx="8" cy="18.2" r="0.7"/><circle cx="3.8" cy="14" r="0.7"/><circle cx="12.2" cy="14" r="0.7"/><circle cx="5" cy="11" r="0.7"/><circle cx="11" cy="11" r="0.7"/><circle cx="5" cy="17" r="0.7"/><circle cx="11" cy="17" r="0.7"/></g>
</svg>
<div class="t" style="left:34.5px;top:11px;font-size:15.1px;color:#434651;">Euro / U.S. Dollar · 1D · FXCM</div>
<div style="position:absolute;left:257.5px;top:9.8px;width:17px;height:17px;border-radius:50%;background:#d5ede5;"></div>
<div style="position:absolute;left:262px;top:14.3px;width:8px;height:8px;border-radius:50%;background:#089981;"></div>
<div class="t" style="left:291px;top:12.4px;font-size:12.4px;color:#2c6e47;"><span style="color:#50535e">O</span>1.08751  <span style="color:#50535e">H</span>1.08844  <span style="color:#50535e">L</span>1.08554  <span style="color:#50535e">C</span>1.08797  +0.00046 (+0.04%)</div>
<div style="position:absolute;left:11px;top:34.5px;width:58.5px;height:21.5px;border:1px solid #f23645;border-radius:4px;background:#fff;"></div>
<div class="t" style="left:19px;top:40.5px;font-size:12.4px;color:#f23645;">1.0879<sup style="font-size:9px;vertical-align:4px;line-height:0">6</sup></div>
<div class="t" style="left:79.5px;top:41px;font-size:11.5px;color:#131722;">0.3</div>
<div style="position:absolute;left:103px;top:34.5px;width:58.5px;height:21.5px;border:1px solid #2962ff;border-radius:4px;background:#fff;"></div>
<div class="t" style="left:111px;top:40.5px;font-size:12.4px;color:#2962ff;">1.0879<sup style="font-size:9px;vertical-align:4px;line-height:0">9</sup></div>
<div class="t" style="left:12.2px;top:68.7px;font-size:12.1px;color:#50535e;">MA Ribbon SMA close 20 SMA close 50 SMA close 100 SMA close 200</div>
<div class="t" style="left:404.3px;top:68.7px;font-size:12.1px;color:#f23645;">1.09769</div>
<div class="t" style="left:455.8px;top:68.7px;font-size:12.1px;color:#2962ff;">1.09087</div>
<div class="t" style="left:504px;top:68.7px;font-size:12.1px;color:#131722;">∅</div>
<div class="t" style="left:522.8px;top:68.7px;font-size:12.1px;color:#131722;">1.08466</div>
<div style="position:absolute;left:12.3px;top:88.4px;width:26.2px;height:18.2px;border:1px solid #d1d4dc;border-radius:3px;background:#fdf8f8;"></div>
<svg style="position:absolute;left:13px;top:89px" width="28" height="20"><path d="M10,12 L14,8 L18,12" stroke="#131722" stroke-width="1.4" fill="none"/><line x1="12" x2="21" y1="14.5" y2="14.5" stroke="#c8c8c8" stroke-width="1.5"/></svg>
<div class="t" style="left:12px;top:698px;font-size:11.6px;color:#50535e;">ATR 14 RMA</div>
<div class="t" style="left:87.6px;top:698px;font-size:12.1px;color:#c62828;">0.00629</div>
<div class="t" style="left:12px;top:727.8px;font-size:12px;color:#50535e;">CCI 20 hlc3 SMA 5</div>
<div class="t" style="left:122.5px;top:727.8px;font-size:12.1px;color:#2962ff;">−147.64</div>
<svg style="position:absolute;left:15px;top:774px" width="29.5" height="15.5" viewBox="0 0 36 19"><path d="M0,0 H14 V19 H7 V7 H0 Z" fill="#131722"/><circle cx="20" cy="4" r="4" fill="#131722"/><path d="M26,0 H36 L28,19 H19 Z" fill="#131722"/></svg>
<div class="pl" style="top:49.8px">1.12500</div>
<div class="pl" style="top:86.9px">1.12000</div>
<div class="pl" style="top:124.0px">1.11500</div>
<div class="pl" style="top:198.3px">1.10500</div>
<div class="pl" style="top:235.4px">1.10000</div>
<div class="pl" style="top:272.5px">1.09500</div>
<div class="pl" style="top:309.7px">1.09000</div>
<div class="pl" style="top:346.8px">1.08500</div>
<div class="pl" style="top:383.9px">1.08000</div>
<div class="pl" style="top:421.0px">1.07500</div>
<div class="pl" style="top:458.2px">1.07000</div>
<div class="pl" style="top:495.3px">1.06500</div>
<div class="pl" style="top:532.4px">1.06000</div>
<div class="pl" style="top:569.5px">1.05500</div>
<div class="pl" style="top:606.7px">1.05000</div>
<div class="pl" style="top:643.8px">1.04500</div>
<div class="pl" style="top:725.6px">250.00</div>
<div class="pl" style="top:760.9px">0.00</div>
<div class="pl" style="top:796.1px">−250.00</div>
<div class="bx" style="top:28.3px"><span>1.12757</span></div>
<div class="bx" style="top:95.8px"><span>1.11848</span></div>
<div class="bx" style="top:162.0px"><span>1.10956</span></div>
<div class="bx" style="top:176.7px"><span>1.10758</span></div>
<div class="bx" style="top:390.9px"><span>1.07874</span></div>
<div class="bx" style="top:504.0px"><span>1.06350</span></div>
<div class="bx" style="top:592.3px"><span>1.05161</span></div>
<div class="bx" style="top:322.3px;height:16.3px;background:#6aa584;width:59px;color:#eaf5ee;"><span>09:44:45</span></div>
<div style="position:absolute;left:1466px;top:2px;width:62px;height:33.5px;background:#fff;border-top-right-radius:3px;"></div>
<div style="position:absolute;left:1469.5px;top:6px;width:55.5px;height:25px;border:1px solid #e0e3eb;border-radius:4px;background:#fff;box-sizing:border-box;"></div>
<div class="t" style="left:1474px;top:13px;font-size:12px;color:#1c2a8c;">USD</div>
<svg style="position:absolute;left:1514px;top:17px" width="8" height="5"><path d="M1,1 L3.5,3.5 L6,1" stroke="#131722" stroke-width="1.3" fill="none"/></svg>
<div class="tl" style="left:18.6px">Apr</div>
<div class="tl" style="left:150.5px">May</div>
<div class="tl" style="left:301.2px">Jun</div>
<div class="tl" style="left:446px">Jul</div>
<div class="tl" style="left:584.5px">Aug</div>
<div class="tl" style="left:736.3px">Sep</div>
<div class="tl" style="left:874.3px">Oct</div>
<div class="tl" style="left:1019.8px">Nov</div>
<div class="tl" style="left:1164.2px">Dec</div>
<div class="tl" style="left:1302.7px">2024</div>
<div class="tl" style="left:1454.9px">Feb</div>
<svg style="position:absolute;left:1488px;top:809px" width="20" height="20" viewBox="0 0 20 20"><path d="M6.5,3.5 H13.5 L17,10 L13.5,16.5 H6.5 L3,10 Z" fill="none" stroke="#131722" stroke-width="1"/><circle cx="10" cy="10" r="2.4" fill="none" stroke="#131722" stroke-width="1"/></svg>
<div class="t" style="left:1283px;top:732px;font-size:62px;font-weight:700;font-style:italic;color:rgba(255,255,255,0.88);font-family:'Noto Sans CJK SC','WenQuanYi Zen Hei',sans-serif;text-shadow:-1px 4px 2px rgba(70,70,70,0.55);letter-spacing:-2px;">海马财经</div>
<div class="t" style="left:1299px;top:800px;font-size:32px;font-weight:bold;font-style:italic;color:#93c5f5;letter-spacing:10.3px;-webkit-text-stroke:1.5px #93c5f5;text-shadow:-2px 2px 1px rgba(60,80,170,0.55);">zzrt01.cn</div>
</body></html>
